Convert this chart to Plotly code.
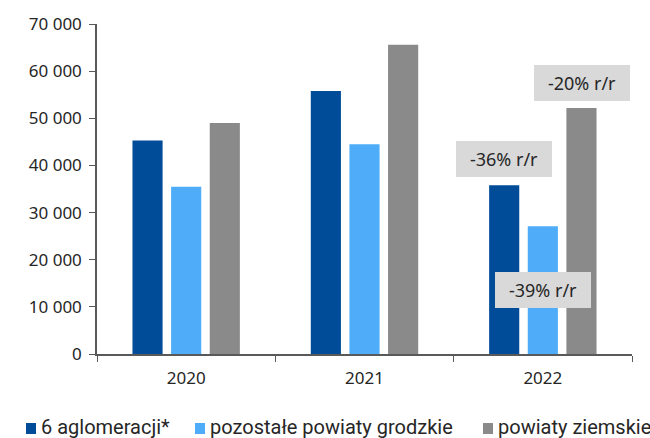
import plotly.graph_objects as go

years = ["2020", "2021", "2022"]
series_names = ["6 aglomeracji*", "pozostałe powiaty grodzkie", "powiaty ziemskie"]
aglomeracje = [45300, 55800, 35800]
pozostale_grodzkie = [35500, 44500, 27100]
ziemskie = [49000, 65600, 52200]
y_ticks = [0, 10000, 20000, 30000, 40000, 50000, 60000, 70000]
y_tick_labels = ["0", "10 000", "20 000", "30 000", "40 000", "50 000", "60 000", "70 000"]

colors = ["#004C99", "#4FACF8", "#8A8A8A"]
series = [aglomeracje, pozostale_grodzkie, ziemskie]

W, H = 650, 438
M_L, M_R, M_T, M_B = 97, 18, 24, 84
PLOT_W = W - M_L - M_R
PLOT_H = H - M_T - M_B


def px_to_paper(px, py):
    """Convert a page position (pixels from top-left) to paper coordinates."""
    return (px - M_L) / PLOT_W, (H - M_B - py) / PLOT_H


fig = go.Figure()
for name, vals, col in zip(series_names, series, colors):
    fig.add_trace(go.Bar(
        x=years, y=vals, name=name,
        marker=dict(color=col, line=dict(width=0)),
    ))

# year-on-year change in the last year, one box per series
slot = 0.217
offsets = [-slot, 0, slot]
label_y = [41400, 13500, 57500]
for vals, off, ly in zip(series, offsets, label_y):
    pct = round((vals[2] / vals[1] - 1) * 100)
    fig.add_annotation(
        x=2 + off, y=ly, xref="x", yref="y",
        text=f"{pct}% r/r", showarrow=False,
        font=dict(family="Noto Sans", size=18, color="#262626"),
        bgcolor="#D9D9D9", borderpad=4, borderwidth=0,
        width=88, height=28,
    )

# legend row under the axis: small square + label for each series
legend_left = [26, 195, 483]
for name, col, lx in zip(series_names, colors, legend_left):
    x0, y0 = px_to_paper(lx, 434)
    x1, y1 = px_to_paper(lx + 10, 423)
    fig.add_shape(type="rect", xref="paper", yref="paper",
                  x0=x0, y0=y0, x1=x1, y1=y1,
                  fillcolor=col, line=dict(width=0))
    tx, ty = px_to_paper(lx + 14, 427)
    fig.add_annotation(
        x=tx, y=ty, xref="paper", yref="paper",
        xanchor="left", yanchor="middle", showarrow=False,
        text=name, borderpad=0, height=22,
        font=dict(family="Roboto", size=20, color="#262626"),
    )

axis_col = "#595959"
fig.update_layout(
    width=W, height=H,
    margin=dict(l=M_L, r=M_R, t=M_T, b=M_B, autoexpand=False),
    paper_bgcolor="white", plot_bgcolor="white",
    barmode="group", bargap=0.35, bargroupgap=0.22,
    font=dict(family="Noto Sans", size=17, color="#262626"),
    showlegend=False,
    xaxis=dict(
        type="category", showline=True, linecolor=axis_col, linewidth=1.5,
        ticks="outside", tickson="boundaries", ticklen=6, tickcolor=axis_col,
        tickfont=dict(size=17), showgrid=False, ticklabelstandoff=8,
    ),
    yaxis=dict(
        range=[0, 70000], tickvals=y_ticks, ticktext=y_tick_labels,
        showline=True, linecolor=axis_col, linewidth=1.5,
        ticks="outside", ticklen=6, tickcolor=axis_col,
        tickfont=dict(size=17), showgrid=False, zeroline=False,
        ticklabelstandoff=4,
    ),
)

fig.write_html("out.html")
